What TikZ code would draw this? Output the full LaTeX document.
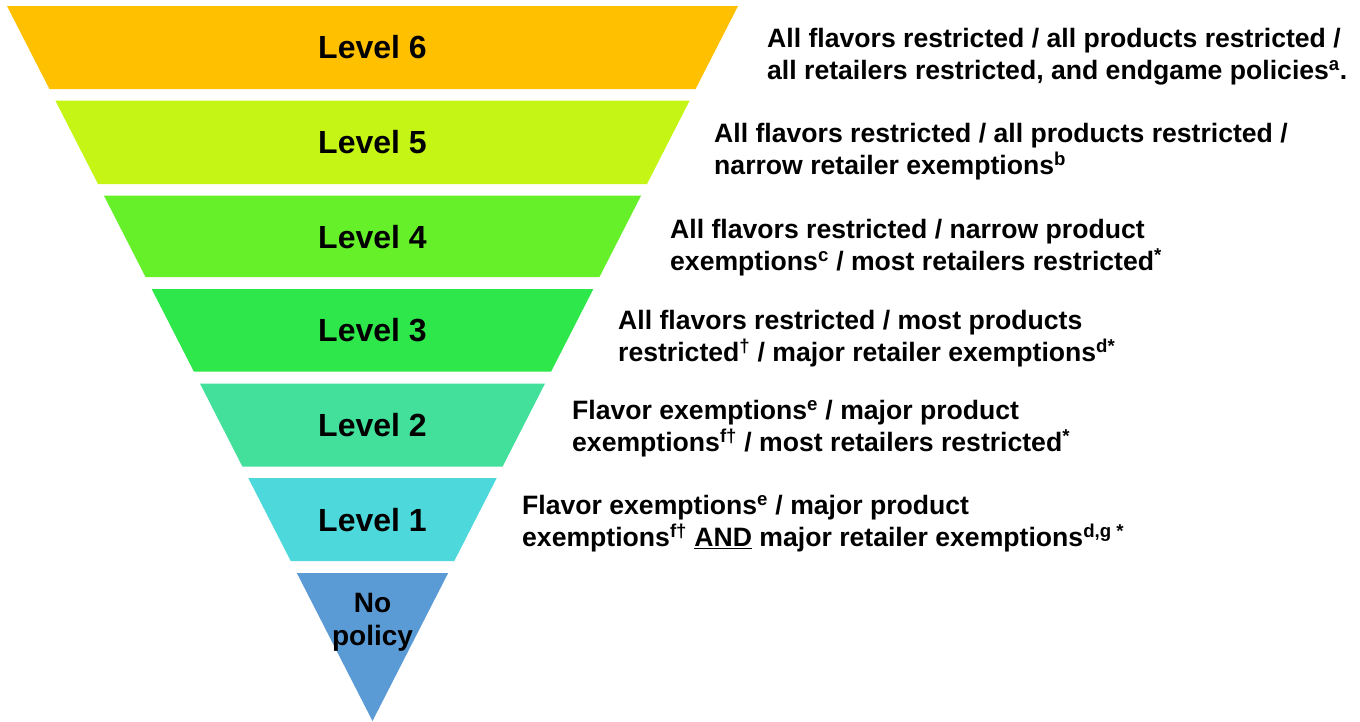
\documentclass[tikz,border=0pt]{standalone}
\usepackage{fontspec}
\setmainfont{Liberation Sans}
\def\funnelslope{0.5112}
\newcommand{\funnelband}[3]{%
    \fill[#3] ({372.5-\funnelslope*(721-#1)},#1) -- ({372.5+\funnelslope*(721-#1)},#1)
        -- ({372.5+\funnelslope*(721-#2)},#2) -- ({372.5-\funnelslope*(721-#2)},#2) -- cycle;}
\definecolor{band six}{HTML}{FFC000}
\definecolor{band five}{HTML}{C5F515}
\definecolor{band four}{HTML}{66F02A}
\definecolor{band three}{HTML}{2EE84B}
\definecolor{band two}{HTML}{42E09A}
\definecolor{band one}{HTML}{4DD8DB}
\definecolor{band none}{HTML}{5B9BD5}
\tikzset{level/.style={font=\fontsize{32}{36}\selectfont\bfseries, inner sep=0pt},
    nopolicy/.style={font=\fontsize{28}{33}\selectfont\bfseries, align=center, inner sep=0pt},
    desc/.style={font=\fontsize{26.6}{32}\selectfont\bfseries, align=left, anchor=west, inner sep=0pt}}

\begin{document}
\begin{tikzpicture}[x=1pt, y=-1pt]
    \useasboundingbox (0,0) rectangle (1360,721);
    \funnelband{6}{89}{band six}
    \funnelband{100.5}{184}{band five}
    \funnelband{195.5}{277}{band four}
    \funnelband{289}{371.5}{band three}
    \funnelband{383.5}{466.5}{band two}
    \funnelband{478}{561}{band one}
    \fill[band none] ({372.5-\funnelslope*148},573) -- ({372.5+\funnelslope*148},573) -- (372.5,721) -- cycle;

    \node[level] (level6) at (372.5, 47) {Level 6};
    \node[level] (level5) at (372.5,142) {Level 5};
    \node[level] (level4) at (372.5,237) {Level 4};
    \node[level] (level3) at (372.5,330) {Level 3};
    \node[level] (level2) at (372.5,425) {Level 2};
    \node[level] (level1) at (372.5,520) {Level 1};
    \node[nopolicy] (level0) at (372.5,622) {No\\policy};

    \node[desc] (desc6) at (767, 57) {All flavors restricted / all products restricted /\\
        all retailers restricted, and endgame policies\textsuperscript{a}.};
    \node[desc] (desc5) at (714,152) {All flavors restricted / all products restricted /\\
        narrow retailer exemptions\textsuperscript{b}};
    \node[desc] (desc4) at (670,248) {All flavors restricted / narrow product\\
        exemptions\textsuperscript{c} / most retailers restricted\textsuperscript{*}};
    \node[desc] (desc3) at (618,339) {All flavors restricted / most products\\
        restricted\textsuperscript{\dag}~/ major retailer exemptions\textsuperscript{d*}};
    \node[desc] (desc2) at (572,429) {Flavor exemptions\textsuperscript{e} / major product\\
        exemptions\textsuperscript{f\dag}~/ most retailers restricted\textsuperscript{*}};
    \node[desc] (desc1) at (522,524) {Flavor exemptions\textsuperscript{e} / major product\\
        exemptions\textsuperscript{f\dag} \underline{AND} major retailer exemptions\textsuperscript{d,g *}};
\end{tikzpicture}
\end{document}
